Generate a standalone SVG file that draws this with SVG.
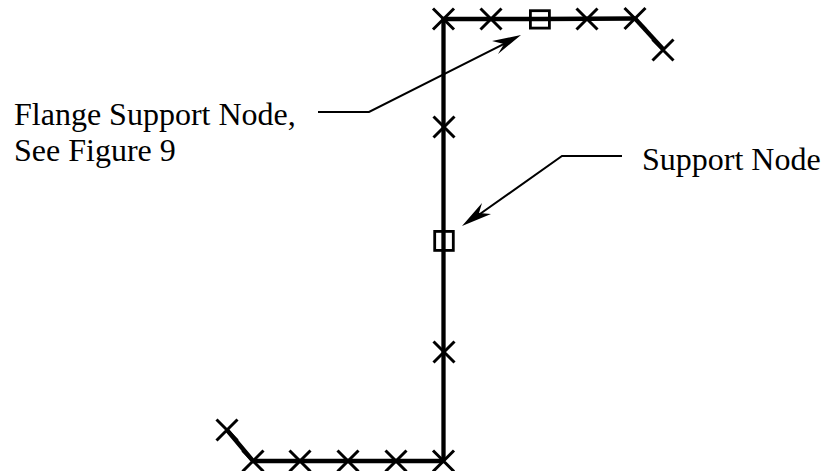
<svg xmlns="http://www.w3.org/2000/svg" width="823" height="471" viewBox="0 0 823 471">
<style>
.w{fill:none;stroke:#000;stroke-width:4.300}
.x{fill:none;stroke:#000;stroke-width:3}
.s{fill:none;stroke:#000;stroke-width:2.800}
.l{fill:none;stroke:#000;stroke-width:2}
.h{fill:#000;stroke:none}
text{font-family:"Liberation Serif","Times New Roman",serif;font-size:32px;fill:#000}
</style>
<defs>
<path id="x" class="x" d="M-10.500-10.500L10.500 10.500M-10.500 10.500L10.500-10.500"/>
</defs>
<rect width="823" height="471" fill="#fff"/>
<g id="connectors">
<path class="w" d="M443.500 461V19H540L635 18.500"/>
<path class="w" d="M635 18.500L663 49"/>
<path class="w" d="M443.500 461H253L227 430"/>
<path class="l" d="M318 112H369L510 41"/>
<path class="h" d="M521 35L492 41L504 44L498 54Z"/>
<path class="l" d="M622 156H562L470 221"/>
<path class="h" d="M462 226L491 214L479 213L482 203Z"/>
</g>
<g id="node-t1"><use href="#x" x="443.500" y="19"/></g>
<g id="node-t2"><use href="#x" x="491" y="19"/></g>
<g id="node-flange-support"><rect class="s" x="530.400" y="10.700" width="19" height="17.400"/></g>
<g id="node-t3"><use href="#x" x="587" y="19"/></g>
<g id="node-t4"><use href="#x" x="635" y="18.500"/></g>
<g id="node-t5"><use href="#x" x="663" y="50"/></g>
<g id="node-w1"><use href="#x" x="444" y="127"/></g>
<g id="node-support"><rect class="s" x="434.700" y="231.400" width="18.600" height="19"/></g>
<g id="node-w2"><use href="#x" x="444" y="352"/></g>
<g id="node-b1"><use href="#x" x="443.500" y="461"/></g>
<g id="node-b2"><use href="#x" x="396" y="461"/></g>
<g id="node-b3"><use href="#x" x="348" y="461"/></g>
<g id="node-b4"><use href="#x" x="300" y="461"/></g>
<g id="node-b5"><use href="#x" x="253" y="461"/></g>
<g id="node-b6"><use href="#x" x="227" y="430"/></g>
<g id="label-flange"><text x="14" y="125">Flange Support Node,</text><text x="14" y="161">See Figure 9</text></g>
<g id="label-support"><text x="642" y="170">Support Node</text></g>
</svg>
